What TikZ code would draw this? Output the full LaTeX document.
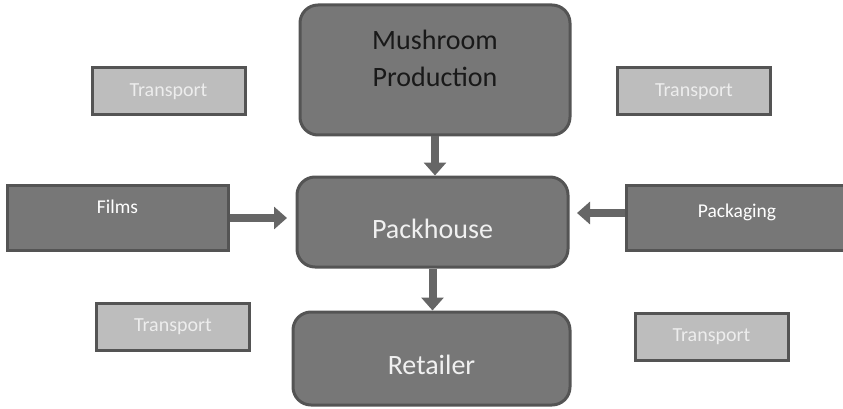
\documentclass[tikz,border=0pt]{standalone}
\usepackage{fontspec}
\setmainfont{Carlito}
\usetikzlibrary{positioning}
\usetikzlibrary{arrows.meta}

\definecolor{boxfill}{HTML}{777777}
\definecolor{boxline}{HTML}{545454}
\definecolor{lightfill}{HTML}{BDBDBD}
\definecolor{arrowfill}{HTML}{666666}

\tikzset{
	stage/.style = {draw = boxline, line width = 3pt, fill = boxfill, rounded corners = 18pt, font = \fontsize{28}{37}\selectfont},
	supply/.style = {draw = boxline, line width = 3pt, fill = boxfill, text = white, font = \fontsize{19.5}{23}\selectfont, minimum width = 221pt, minimum height = 65pt},
	transport/.style = {draw = boxline, line width = 3pt, fill = lightfill, text = white!93!black, font = \fontsize{20}{24}\selectfont, minimum width = 153pt, minimum height = 47pt},
	flow/.style = {draw = arrowfill, line width = 8pt, -{Triangle[width = 22pt, length = 13pt]}}
}

\begin{document}
\begin{tikzpicture}[x = 1pt, y = -1pt]
							\useasboundingbox (0, 0) rectangle (843, 409);
							\node [stage, text = black!90, minimum width = 270pt, minimum height = 130pt, align = center, text depth = 24pt] (mushroom) at (435, 70) {Mushroom\\Production};
							\node [stage, text = white!94!black, minimum width = 271pt, minimum height = 90pt, text height = 34pt] (packhouse) at (432.5, 222) {Packhouse};
							\node [stage, text = white!94!black, minimum width = 277pt, minimum height = 93pt, text height = 32pt] (retailer) at (431.5, 358.5) {Retailer};
							\node [supply, text depth = 22pt] (films) at (117.5, 217.5) {Films};
							\node [supply, text depth = 14pt] (packaging) at (737, 217.5) {Packaging};
							\node [transport] (transportA) at (168.5, 91.5) {Transport};
							\node [transport] (transportB) at (694, 91.5) {Transport};
							\node [transport] (transportC) at (173, 326.5) {Transport};
							\node [transport] (transportD) at (711.5, 336.5) {Transport};
							\coordinate (filmsin) at (287, 218);
							\coordinate (packin) at (577, 213);
							\draw [flow] (mushroom.south) -- (mushroom.south |- packhouse.north);
							\draw [flow] (packhouse.south) -- (packhouse.south |- retailer.north);
							\draw [flow] (films.east |- filmsin) -- (filmsin);
							\draw [flow] (packaging.west |- packin) -- (packin);
						\end{tikzpicture}
\end{document}
